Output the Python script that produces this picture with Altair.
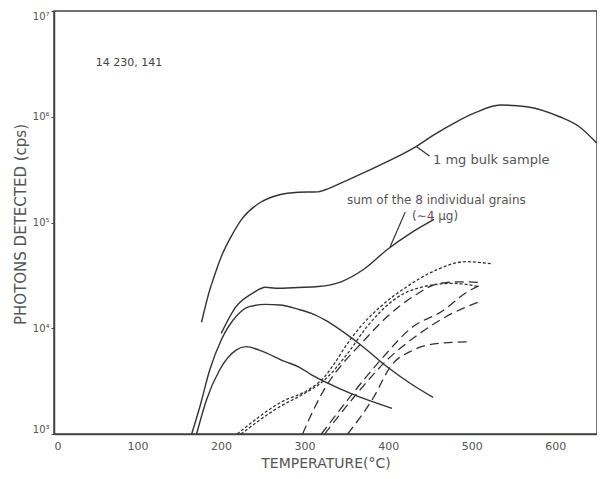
import altair as alt
import pandas as pd

# ---- data ----
bulk_T = [176.6, 186.4, 190.3, 200.2, 212, 225.7, 245.4, 269, 292.6, 316, 324, 351.5, 390.8, 430.2, 457.7, 481.3, 503, 534.4, 565.9, 605.2, 628.8, 650]
bulk_cps = [11400, 23000, 28600, 47500, 73500, 110000, 152000, 182000, 193000, 195000, 203000, 252000, 350000, 504000, 697000, 891000, 1080000, 1290000, 1245000, 1000000, 805000, 561000]

sum_T = [200.2, 217.9, 237.5, 253.3, 265, 292.6, 316.2, 343.6, 371.2, 399, 427, 455]
sum_cps = [8950, 16000, 21400, 24400, 23900, 24300, 24800, 27500, 36300, 55600, 79400, 107000]

s3_T = [164.8, 174.6, 186.4, 200.2, 217.9, 233.6, 253.3, 270, 292.6, 308.3, 324, 367.2, 398.7, 426.2, 453.8]
s3_cps = [1000, 1810, 4030, 7740, 12900, 16000, 16800, 16600, 15100, 13800, 12000, 6950, 4320, 3020, 2220]

s4_T = [170.7, 182.5, 198.2, 217.9, 229.7, 245.4, 276.9, 292.6, 308.3, 324, 359.4, 404.6]
s4_cps = [1000, 2100, 4030, 6220, 6700, 6220, 4830, 4320, 3630, 3130, 2340, 1750]

dt1_T = [219.4, 272.9, 304.3, 324, 335.8, 351.5, 367.2, 390.8, 422.3, 457.7, 493, 524.6]
dt1_cps = [1000, 2020, 2610, 3480, 4660, 7210, 10400, 16000, 24700, 35600, 42600, 40600]

dt2_T = [223.8, 275, 292.6, 327.9, 351.5, 375, 406.6, 442, 477.4, 508.8]
dt2_cps = [1000, 1905, 2250, 3480, 5790, 10400, 18500, 24700, 26600, 24700]

d1_T = [297.5, 312, 328, 345, 367, 399, 430, 462, 489, 513]
d1_cps = [1000, 1780, 3020, 4570, 7080, 12900, 20000, 26600, 27500, 26900]

d2_T = [320, 351.5, 391, 430, 463.6, 495, 511]
d2_cps = [1000, 2100, 5010, 10400, 14300, 22100, 25700]

d3_T = [324, 359.4, 398.7, 438, 469.5, 508.8]
d3_cps = [1000, 2250, 5010, 8950, 12900, 17800]

d4_T = [351.5, 383, 402.6, 430, 461.6, 497]
d4_cps = [1000, 2250, 4320, 6220, 7210, 7460]

x_ticks = [0, 100, 200, 300, 400, 500, 600]
y_ticks = [1e3, 1e4, 1e5, 1e6, 1e7]

sample_label = "14 230, 141"
bulk_label = "1 mg bulk sample"
sum_label = "sum of the 8 individual grains"
sum_label2 = "(∼4 μg)"


def frame(name, T, cps, style):
    return pd.DataFrame({"T": T, "cps": cps, "series": name, "style": style})


df = pd.concat([
    frame("bulk", bulk_T, bulk_cps, "solid"),
    frame("sum", sum_T, sum_cps, "solid"),
    frame("s3", s3_T, s3_cps, "solid"),
    frame("s4", s4_T, s4_cps, "solid"),
    frame("dt1", dt1_T, dt1_cps, "dotted"),
    frame("dt2", dt2_T, dt2_cps, "dotted"),
    frame("d1", d1_T, d1_cps, "dashed"),
    frame("d2", d2_T, d2_cps, "dashed"),
    frame("d3", d3_T, d3_cps, "dashed"),
    frame("d4", d4_T, d4_cps, "dashed"),
], ignore_index=True)

LINE = "#333333"
TXT = "#555555"
FONT = "DejaVu Sans"

xscale = alt.Scale(domain=[0, 650], nice=False, zero=False)
yscale = alt.Scale(type="log", domain=[1e3, 1e7], nice=False)

xenc = alt.X("T:Q", scale=xscale, axis=alt.Axis(
    values=x_ticks, title="TEMPERATURE(°C)", ticks=False, grid=False,
    labelPadding=6, labelFontSize=11, labelColor=TXT, labelFont=FONT,
    titleFontSize=14, titleColor=TXT, titleFont=FONT, titleFontWeight="normal",
    titleY=29, titleBaseline="middle", domainColor="#444", domainWidth=1.5))
yenc = alt.Y("cps:Q", scale=yscale, axis=alt.Axis(
    values=y_ticks, title="PHOTONS DETECTED (cps)", grid=False,
    labelExpr="'10' + ['⁰','¹','²','³','⁴','⁵','⁶','⁷'][round(log(datum.value)/LN10)]",
    labelFlush=True,
    tickSize=3, tickColor="#444", labelPadding=2, labelFontSize=10, labelColor=TXT, labelFont=FONT,
    titleFontSize=15, titleColor=TXT, titleFont=FONT, titleFontWeight="normal",
    titleX=-34, titleY=213, titleAlign="center", titleBaseline="middle", titleAngle=270,
    domainColor="#444", domainWidth=1.5))

base = alt.Chart(df)
solid = base.transform_filter(alt.datum.style == "solid").mark_line(
    color=LINE, strokeWidth=1.4, interpolate="monotone").encode(x=xenc, y=yenc, detail="series:N")
dotted = base.transform_filter(alt.datum.style == "dotted").mark_line(
    color=LINE, strokeWidth=1.3, strokeDash=[3, 2], interpolate="monotone").encode(x="T:Q", y="cps:Q", detail="series:N")
dashed = base.transform_filter(alt.datum.style == "dashed").mark_line(
    color=LINE, strokeWidth=1.3, strokeDash=[9, 5], interpolate="monotone").encode(x="T:Q", y="cps:Q", detail="series:N")

labels = pd.DataFrame({
    "T": [89.8, 453.7, 350.7, 428.5],
    "cps": [3.22e6, 3.9e5, 1.63e5, 1.16e5],
    "text": [sample_label, bulk_label, sum_label, sum_label2],
})
text_center = alt.Chart(labels.iloc[[0]]).mark_text(
    align="center", baseline="middle", fontSize=11, font=FONT, color="#444").encode(x="T:Q", y="cps:Q", text="text:N")
text_bulk = alt.Chart(labels.iloc[[1]]).mark_text(
    align="left", baseline="middle", fontSize=13, font=FONT, color="#555").encode(x="T:Q", y="cps:Q", text="text:N")
text_sum = alt.Chart(labels.iloc[2:]).mark_text(
    align="left", baseline="middle", fontSize=12, font=FONT, color="#555").encode(x="T:Q", y="cps:Q", text="text:N")

leaders = pd.DataFrame({
    "T": [434.1, 449.5, 402.2, 420.5],
    "cps": [5.21e5, 4.26e5, 5.82e4, 1.26e5],
    "g": ["a", "a", "b", "b"],
})
leader_lines = alt.Chart(leaders).mark_line(color=LINE, strokeWidth=1.2).encode(
    x="T:Q", y="cps:Q", detail="g:N")

chart = alt.layer(solid, dotted, dashed, leader_lines, text_center, text_bulk, text_sum).properties(
    width=543, height=423,
    autosize=alt.AutoSizeParams(type="none"),
    padding={"left": 46, "top": 3, "right": 0, "bottom": 36},
    background="white",
).configure_view(stroke="#444", strokeWidth=1.5)

chart.save("out.html", embed_options={"renderer": "svg", "actions": False})
